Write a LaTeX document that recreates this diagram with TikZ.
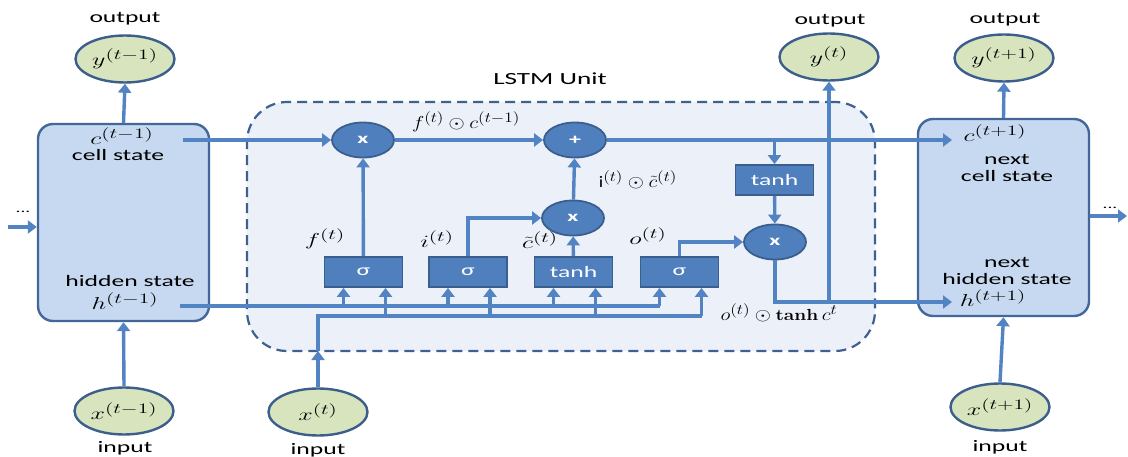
\documentclass[tikz,border=0pt]{standalone}
\usepackage{fontspec}
\setmainfont{Carlito}
\newfontfamily\lmserif{Latin Modern Roman}
\usetikzlibrary{arrows.meta,shapes.geometric,calc}

\definecolor{lnblue}{HTML}{5283C2}
\definecolor{opfill}{HTML}{4F7FBD}
\definecolor{opborder}{HTML}{3A5F8F}
\definecolor{bxfill}{HTML}{C6D9F1}
\definecolor{bxborder}{HTML}{44679A}
\definecolor{dashfill}{HTML}{ECF0F8}
\definecolor{dashborder}{HTML}{3E6190}
\definecolor{iofill}{HTML}{D7E4BD}
\definecolor{ioborder}{HTML}{3B5E8C}

% horizontal stretch used by the labels
\newcommand\hs[1]{\scalebox{1.6}[1]{#1}}
\newcommand\hm[1]{\scalebox{1.5}[1]{#1}}
\newcommand\hc[1]{\scalebox{1.2}[1]{#1}}
% serif operator name
\newcommand\tanhop{\mbox{\lmserif\bfseries tanh}\,}
% large superscripts for the state symbols
\DeclareMathSizes{16}{16}{14}{11}
\DeclareMathSizes{18}{18}{15.5}{12}

\begin{document}
\begin{tikzpicture}[x=1pt,y=-1pt,
  flow/.style={draw=lnblue, line width=3.4pt, -{Triangle[width=13pt,length=9pt]}},
  plain/.style={draw=lnblue, line width=3.4pt},
  bigbox/.style={draw=bxborder, fill=bxfill, line width=2.4pt, rounded corners=15pt,
                 minimum width=171pt, minimum height=197pt},
  io/.style={ellipse, draw=ioborder, fill=iofill, line width=2.4pt,
             minimum width=99pt, minimum height=47pt, inner sep=0pt,
             font=\fontsize{18}{20}\selectfont},
  op/.style={ellipse, draw=opborder, fill=opfill, line width=1.8pt,
             minimum width=62pt, minimum height=35pt, inner sep=0pt, text=white,
             font=\fontsize{15}{17}\selectfont\bfseries},
  gate/.style={rectangle, draw=opborder, fill=opfill, line width=1.8pt,
               minimum width=78pt, minimum height=30pt, inner sep=0pt, text=white,
               font=\fontsize{16}{18}\selectfont},
  lbl/.style={inner sep=0pt, font=\fontsize{16}{18}\selectfont},
  mth/.style={inner sep=0pt, font=\fontsize{16}{18}\selectfont}]

\useasboundingbox (0,0) rectangle (1128,457);

% LSTM unit frame
\node[draw=dashborder, fill=dashfill, dash pattern=on 10pt off 6pt, line width=2.2pt,
      rounded corners=40pt, minimum width=628pt, minimum height=249pt] (D) at (561,226.5) {};
\node[lbl, font=\fontsize{17}{19}\selectfont] (unit) at (550,79) {\hs{LSTM Unit}};

% previous and next cells
\node[bigbox] (L) at (123.5,222.5) {};
\node[bigbox] (R) at (1003.5,217.5) {};

% inputs and outputs
\node[io] (yl) at (125,59) {\hm{$y^{(t-1)}$}};
\node[io] (xl) at (124,411) {\hm{$x^{(t-1)}$}};
\node[io] (yt) at (829,57) {\hm{$y^{(t)}$}};
\node[io] (xt) at (318,412) {\hm{$x^{(t)}$}};
\node[io] (yr) at (1004,58) {\hm{$y^{(t+1)}$}};
\node[io] (xr) at (1000,407) {\hm{$x^{(t+1)}$}};
\node[lbl] (oyl) at (125,19) {\hs{output}};
\node[lbl] (oyt) at (830,21) {\hs{output}};
\node[lbl] (oyr) at (1005,20) {\hs{output}};
\node[lbl] (ixl) at (125,448) {\hs{input}};
\node[lbl] (ixt) at (318,450) {\hs{input}};
\node[lbl] (ixr) at (1000,447) {\hs{input}};

% labels inside the cells
\node[mth] (cLt) at (122,136) {\hm{$c^{(t-1)}$}};
\node[lbl] (cLs) at (118,155) {\hs{cell state}};
\node[lbl] (hLs) at (130,281) {\hs{hidden state}};
\node[mth] (hLt) at (125,301) {\hm{$h^{(t-1)}$}};
\node[mth] (cRt) at (995,133) {\hm{$c^{(t+1)}$}};
\node[lbl] (cRn) at (1007,160) {\hs{next}};
\node[lbl] (cRs) at (1007,176) {\hs{cell state}};
\node[lbl] (hRn) at (1007,263) {\hs{next}};
\node[lbl] (hRs) at (1007,279) {\hs{hidden state}};
\node[mth] (hRt) at (993,298) {\hm{$h^{(t+1)}$}};
\node[lbl, font=\fontsize{12}{12}\selectfont] (dotsL) at (23,212) {\hs{...}};
\node[lbl, font=\fontsize{12}{12}\selectfont] (dotsR) at (1110,208) {\hs{...}};

% pointwise operations
\node[op] (m1) at (363,140) {\hs{x}};
\node[op] (p1) at (575,140) {\hs{+}};
\node[op] (m2) at (573,218) {\hs{x}};
\node[op] (m3) at (775,242) {\hs{x}};

% gate layers
\node[gate] (g1) at (363.5,272) {\hs{σ}};
\node[gate] (g2) at (468,272) {\hs{σ}};
\node[gate] (g3) at (573.5,272) {\hs{tanh}};
\node[gate] (g4) at (679.5,272) {\hs{σ}};
\node[gate] (th) at (774.5,180) {\hs{tanh}};

% gate labels
\node[mth] (lf) at (325,239) {\hm{$f^{(t)}$}};
\node[mth] (li) at (437,239) {\hm{$i^{(t)}$}};
\node[mth] (lc) at (540,240) {\hm{$\tilde{c}^{(t)}$}};
\node[mth] (lo) at (648,236) {\hm{$o^{(t)}$}};
\node[mth] (lfc) at (466,122) {\hc{$f^{(t)}\odot c^{(t-1)}$}};
\node[mth] (lic) at (638,180) {\hc{$\mathrm{i}^{(t)}\odot\tilde{c}^{(t)}$}};
\node[mth] (loc) at (779,313) {\hc{$o^{(t)}\odot\tanhop c^{t}$}};

% connection points
\coordinate (cl) at (183,140);
\coordinate (cR) at (952,140);
\coordinate (hl) at (180,306);
\coordinate (hR) at (952,302);
\coordinate (tap) at (829,302);
\coordinate (xb) at (318,351);
\coordinate (xlin) at (318,316);
\coordinate (lin) at (8,227);
\coordinate (rout) at (1127,216);
\foreach \g in {g1,g2,g3,g4}{
  \coordinate (\g a) at ([xshift=-20pt]\g.south);
  \coordinate (\g b) at ([xshift=22pt]\g.south);
}

% cell state path
\draw[flow] (cl) -- (m1.west);
\draw[flow] (m1) -- (p1);
\draw[flow] (p1) -- (cR);
\draw[flow] (th.north |- p1) -- (th);
\draw[flow] (th) -- (m3);

% gates into operations
\draw[flow] (g1) -- (m1);
\draw[flow] (g2.north) |- (m2.west);
\draw[flow] (g3) -- (m2);
\draw[flow] (m2) -- (p1);
\draw[flow] (g4.north) |- (m3.west);

% hidden state out
\draw[flow] (m3.south) |- (hR);
\draw[flow] (tap) -- (yt.south);

% hidden state and input feeds
\draw[plain] (hl) -- (g4a |- hl);
\draw[flow] (xt) -- (xb);
\draw[plain] (xb) -- (xlin) -- (g4b |- xlin);
\foreach \g in {g1,g2,g3,g4}{
  \draw[flow] (\g a |- hl) -- (\g a);
  \draw[flow] (\g b |- xlin) -- (\g b);
}

% outer cells
\draw[flow] (L.north) -- (yl.south);
\draw[flow] (xl.north) -- (L.south);
\draw[flow] (R.north) -- (yr.south);
\draw[flow] (xr.north) -- (R.south);
\draw[flow] (lin) -- (lin -| L.west);
\draw[flow] (R.east |- rout) -- (rout);

\end{tikzpicture}
\end{document}
